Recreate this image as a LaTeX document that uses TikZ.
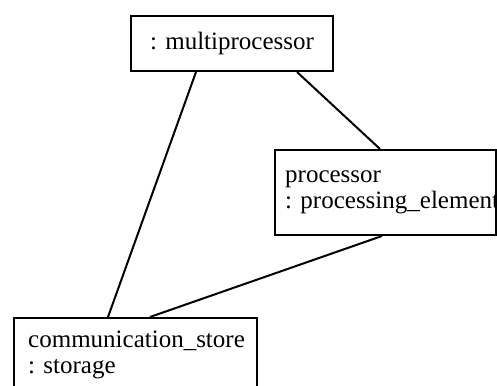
\documentclass[tikz,border=0pt]{standalone}
\usepackage{fontspec}
\setmainfont{Liberation Serif}
\usetikzlibrary{calc}
\tikzset{
  objbox/.style={draw, line width=2pt, inner sep=0pt, anchor=north west},
  objtext/.style={inner sep=0pt, anchor=base west, align=left,
    font=\fontsize{25}{26}\selectfont},
  link/.style={line width=2pt}
}
\begin{document}
\begin{tikzpicture}[x=1pt, y=-1pt]
  \useasboundingbox (0,0) rectangle (497,385);
  \fill[white] (0,0) rectangle (497,385);

  % object boxes
  \node[objbox, minimum width=202pt, minimum height=55pt,
        font=\fontsize{25}{26}\selectfont] (mp) at (130,15) {: multiprocessor};
  \node[objbox, minimum width=221pt, minimum height=85pt] (pe) at (274,149) {};
  \node[objbox, minimum width=243pt, minimum height=90pt] (cs) at (13,317) {};

  % labels inside the boxes (anchored on the baseline of their last line)
  \node[objtext] (pelabel) at (285,208) {processor\\: processing\_element};
  \node[objtext] (cslabel) at (28,373) {communication\_store\\: storage};

  % links between the objects
  \draw[link] ($(mp.south west)+(66,0)$) -- ($(cs.north west)+(95,0)$);
  \draw[link] ($(mp.south west)+(167,0)$) -- ($(pe.north west)+(106,0)$);
  \draw[link] ($(pe.south west)+(108,0)$) -- ($(cs.north west)+(137,0)$);
\end{tikzpicture}
\end{document}
